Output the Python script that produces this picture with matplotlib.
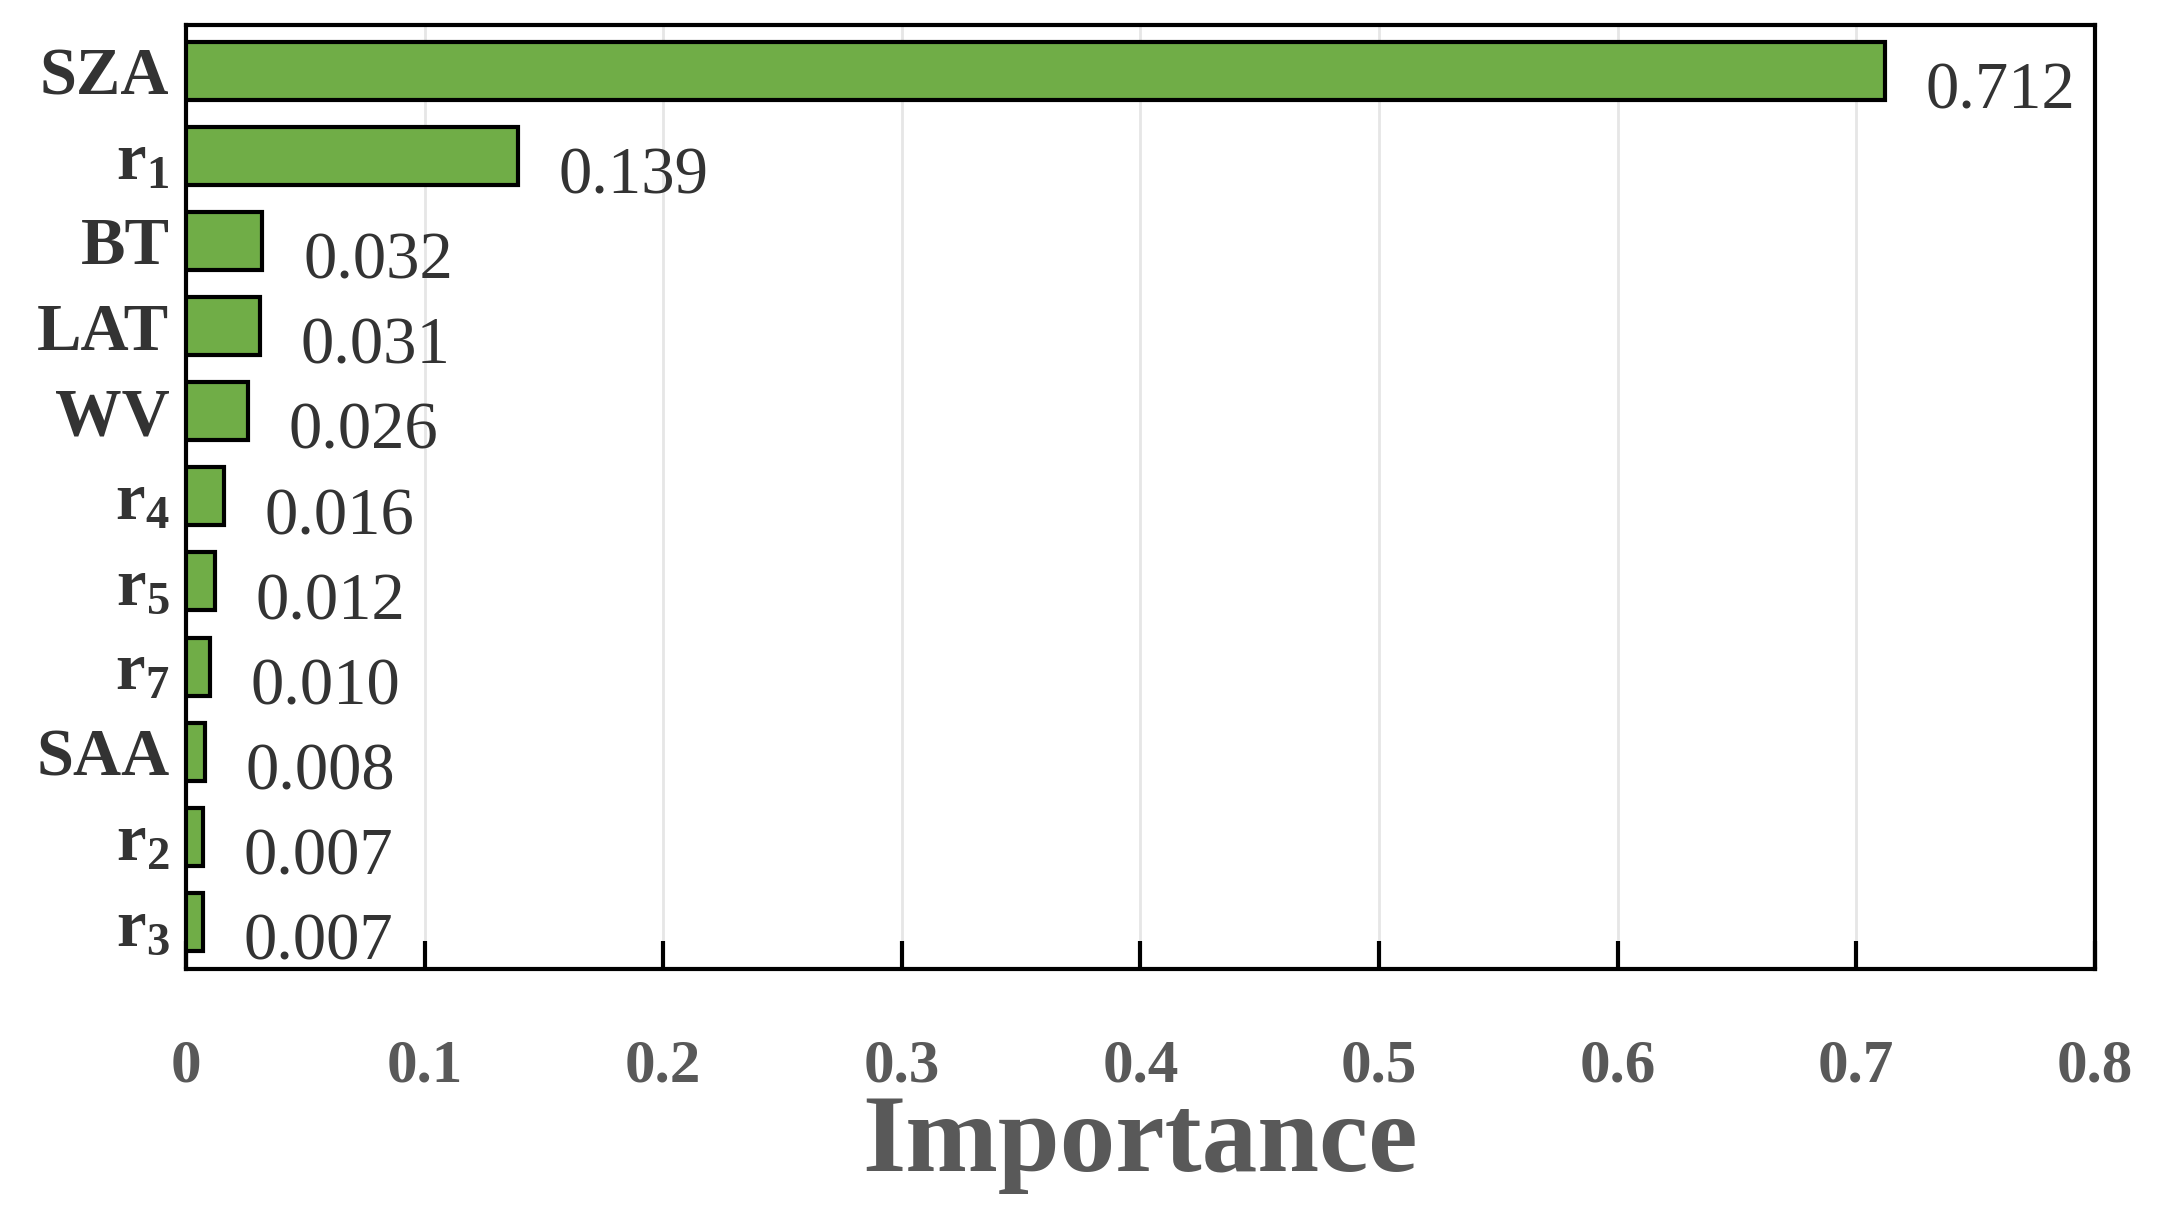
import matplotlib
matplotlib.use("Agg")
import matplotlib.pyplot as plt

features = ["SZA", "r$_{\\mathbf{1}}$", "BT", "LAT", "WV", "r$_{\\mathbf{4}}$", "r$_{\\mathbf{5}}$",
            "r$_{\\mathbf{7}}$", "SAA", "r$_{\\mathbf{2}}$", "r$_{\\mathbf{3}}$"]
importance = [0.712, 0.139, 0.032, 0.031, 0.026, 0.016, 0.012, 0.010, 0.008, 0.007, 0.007]
xticks = [0, 0.1, 0.2, 0.3, 0.4, 0.5, 0.6, 0.7, 0.8]
xticklabels = ["0", "0.1", "0.2", "0.3", "0.4", "0.5", "0.6", "0.7", "0.8"]

plt.rcParams['font.family'] = ['Liberation Serif', 'DejaVu Serif']
plt.rcParams['mathtext.fontset'] = 'custom'
plt.rcParams['mathtext.rm'] = 'Liberation Serif'
plt.rcParams['mathtext.bf'] = 'Liberation Serif:bold'
plt.rcParams['mathtext.it'] = 'Liberation Serif:italic'

fig = plt.figure(figsize=(21.64, 12.31), dpi=100)
ax = fig.add_axes([0.086, 0.213, 0.882, 0.767])
y = list(range(len(features)))
ax.barh(y, importance, height=0.68, color='#70AD47', edgecolor='black', linewidth=3, zorder=3)
for yi, v in zip(y, importance):
    ax.text(v + 0.017, yi + 0.25, f"{v:.3f}", fontsize=48, va='center', ha='left', color='#333333', zorder=4)
ax.set_ylim(10.55, -0.54)
ax.set_xlim(0, 0.8)
ax.set_yticks(y)
ax.set_yticklabels(features, fontsize=48, fontweight='bold', color='#333333')
ax.set_xticks(xticks)
ax.set_xticklabels(xticklabels, fontsize=44, fontweight='bold', color='#595959')
ax.tick_params(axis='x', direction='in', length=20, width=3, pad=50)
ax.tick_params(axis='y', length=0, pad=12)
ax.grid(axis='x', color='#e6e6e6', linewidth=2, zorder=0)
for s in ax.spines.values():
    s.set_linewidth(3)
ax.set_xlabel("Importance", fontsize=80, fontweight='bold', color='#595959', labelpad=0)
fig.savefig("out.png", dpi=100)
